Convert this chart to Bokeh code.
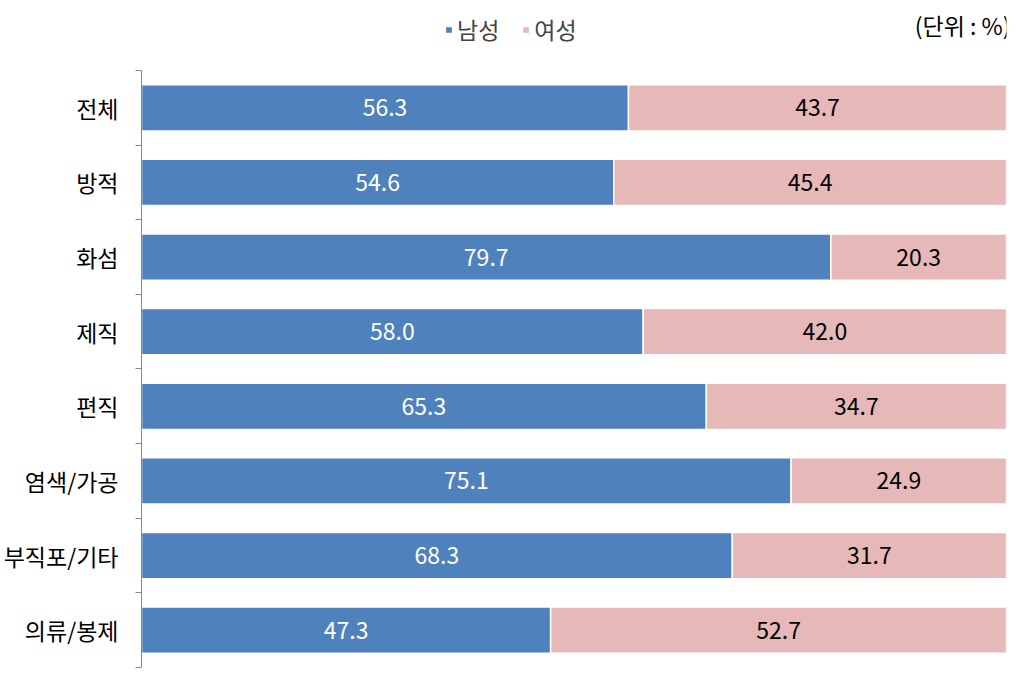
from bokeh.plotting import figure
from bokeh.models import Range1d, FixedTicker, Legend, LegendItem, Label, ColumnDataSource
from bokeh.core.properties import value
from bokeh.embed import file_html
from bokeh.resources import INLINE

categories = ["전체", "방적", "화섬", "제직", "편직", "염색/가공", "부직포/기타", "의류/봉제"]
male = [56.3, 54.6, 79.7, 58.0, 65.3, 75.1, 68.3, 47.3]
female = [43.7, 45.4, 20.3, 42.0, 34.7, 24.9, 31.7, 52.7]
series_names = ["남성", "여성"]
unit_text = "(단위 : %)"

BLUE = "#4F81BD"
PINK = "#E6B9B8"
FONT = "Noto Sans CJK KR"

n = len(categories)
ys = [i + 0.5 for i in range(n)]

p = figure(width=1015, height=675, output_backend="svg", toolbar_location=None,
           x_range=Range1d(0, 100), y_range=Range1d(n, -0.938),
           min_border_left=141, min_border_right=9, min_border_top=0, min_border_bottom=8)
p.outline_line_color = None
p.xgrid.visible = False
p.ygrid.visible = False
p.xaxis.visible = False
p.background_fill_color = "white"
p.border_fill_color = "white"

src = ColumnDataSource(dict(
    y=ys,
    male_end=male,
    total=[m + f for m, f in zip(male, female)],
    male_mid=[m / 2 for m in male],
    female_mid=[m + f / 2 for m, f in zip(male, female)],
    male_txt=[f"{v:.1f}" for v in male],
    female_txt=[f"{v:.1f}" for v in female],
))

r1 = p.hbar(y="y", left=0, right="male_end", height=0.62, source=src,
            fill_color=BLUE, line_color="white", line_width=1.5)
r2 = p.hbar(y="y", left="male_end", right="total", height=0.62, source=src,
            fill_color=PINK, line_color="white", line_width=1.5)

p.text(x="male_mid", y="y", text="male_txt", source=src, text_color="white",
       text_font=value(FONT), text_font_size="23px", text_align="center", text_baseline="middle")
p.text(x="female_mid", y="y", text="female_txt", source=src, text_color="black",
       text_font=value(FONT), text_font_size="23px", text_align="center", text_baseline="middle")

yax = p.yaxis[0]
yax.bounds = (0, n)
yax.ticker = FixedTicker(ticks=ys, minor_ticks=list(range(n + 1)))
yax.major_label_overrides = {y: c for y, c in zip(ys, categories)}
yax.major_tick_line_color = None
yax.major_tick_out = 0
yax.major_tick_in = 0
yax.minor_tick_out = 6
yax.minor_tick_in = 0
yax.minor_tick_line_color = "#888888"
yax.axis_line_color = "#888888"
yax.major_label_standoff = 17
yax.major_label_text_font = FONT
yax.major_label_text_font_size = "23px"
yax.major_label_text_color = "black"

legend = Legend(items=[LegendItem(label=series_names[0], renderers=[r1]),
                       LegendItem(label=series_names[1], renderers=[r2])],
                orientation="horizontal", location=(303, 621),
                label_text_font=FONT, label_text_font_size="23px",
                glyph_width=9, glyph_height=9, spacing=22, label_standoff=4,
                background_fill_alpha=0, border_line_color=None, margin=0, padding=0)
p.add_layout(legend, "center")

p.add_layout(Label(x=100, y=-0.603, text=unit_text, text_align="right", text_baseline="middle",
                   text_font=FONT, text_font_size="23px", text_color="black", x_offset=4))

open("out.html", "w").write(file_html(p, INLINE))
